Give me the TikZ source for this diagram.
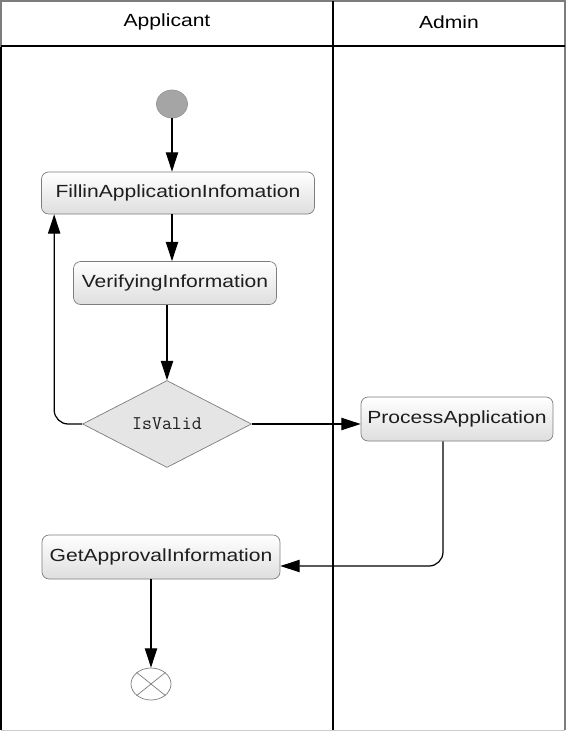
\documentclass[tikz,border=0pt]{standalone}
\usepackage{fontspec}
\newfontfamily\lanefont[FakeStretch=1.2]{Liberation Sans}
\usetikzlibrary{arrows.meta,shapes.geometric,positioning}
\definecolor{grisLine}{RGB}{125,125,125}
\definecolor{grisFill}{RGB}{222,222,222}
\definecolor{grisDot}{RGB}{165,165,165}
\definecolor{grisText}{RGB}{30,30,30}

\tikzset{
  actbox/.style={draw=grisLine, rounded corners=4pt, top color=white,
    bottom color=grisFill, font=\lanefont\fontsize{10}{12}\selectfont,
    text=grisText, inner sep=0pt},
  flow/.style={-{Triangle[length=11pt,width=7pt]}, line width=0.7pt},
  lane/.style={line width=1pt}
}

\begin{document}
\begin{tikzpicture}[x=0.02cm, y=-0.02cm]
  \useasboundingbox[fill=white] (0,0) rectangle (566,731);
  % swimlanes
  \draw[lane, grisLine] (1,730) -- (1,1) -- (565,1) -- (565,730);
  \draw[grisLine!40] (1,730) -- (565,730);
  \draw[lane] (1,47) -- (1,730);
  \draw[lane] (1,46) -- (565,46);
  \draw[lane] (333,1) -- (333,730);
  \node[font=\lanefont\fontsize{10}{12}\selectfont] (hApp) at (167,22) {Applicant};
  \node[font=\lanefont\fontsize{10}{12}\selectfont] (hAdm) at (449,22) {Admin};
  % start / end
  \node[ellipse, draw=grisLine!80, fill=grisDot, minimum width=0.62cm,
    minimum height=0.56cm, inner sep=0pt] (start) at (172,104) {};
  \node[ellipse, draw=grisLine, fill=white, minimum width=0.8cm,
    minimum height=0.64cm, inner sep=0pt] (fin) at (151,684) {};
  \draw[grisLine] (fin.north east) -- (fin.south west)
    (fin.north west) -- (fin.south east);
  % activities
  \node[actbox, minimum width=5.46cm, minimum height=0.84cm] (fill) at (178,193)
    {FillinApplicationInfomation};
  \node[actbox, minimum width=4.06cm, minimum height=0.86cm] (verify) at (175,283)
    {VerifyingInformation};
  \node[diamond, draw=grisLine, fill=grisFill!80, minimum width=3.38cm,
    minimum height=1.74cm, inner sep=0pt, text=grisText,
    font=\ttfamily\fontsize{11}{13}\selectfont]
    (check) at (167,424) {IsValid};
  \node[actbox, minimum width=3.84cm, minimum height=0.88cm] (proc) at (457,419)
    {ProcessApplication};
  \node[actbox, minimum width=4.76cm, minimum height=0.88cm] (approve) at (161,557)
    {GetApprovalInformation};
  % connectors
  \draw[flow] (start) -- (fill.north -| start);
  \draw[flow] (fill.south -| start) -- (verify.north -| start);
  \draw[flow] (verify.south -| check) -- (check.north);
  \draw[flow, rounded corners=8pt] (check.west) -| ([xshift=0.26cm]fill.south west);
  \draw[flow] (check.east) -- (check.east -| proc.west);
  \draw[flow, rounded corners=8pt] ([xshift=-0.28cm]proc.south)
    |- ([yshift=-0.18cm]approve.east);
  \draw[flow] (approve.south -| fin) -- (fin.north);
\end{tikzpicture}
\end{document}
